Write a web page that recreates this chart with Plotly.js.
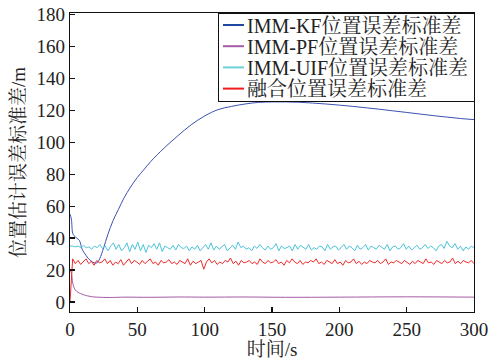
<!DOCTYPE html>
<html>
<head>
<meta charset="utf-8">
<script src="https://cdn.plot.ly/plotly-3.0.1.min.js"></script>
<style>html,body{margin:0;padding:0;background:#fff;}</style>
</head>
<body>
<div id="chart" style="width:490px;height:360px;"></div>
<script>
// ---- Data ----
const seriesNames = ['IMM-KF位置误差标准差', 'IMM-PF位置误差标准差', 'IMM-UIF位置误差标准差', '融合位置误差标准差'];

// IMM-KF (smooth curve)
const kfTime = [0,1,2,3,5,7,9,12,15,18,20,22,25,28,32,36,40,45,50,55,60,70,80,90,100,110,120,130,140,150,160,170,180,190,200,210,220,230,240,250,260,270,280,290,300];
const kfValues = [55,52,43,41.5,40,38.5,33,29,26,24.5,24.5,27,34,42,51,58,65,72,78,83,88,96.5,104,111,116.5,120.5,122.5,124,125,125.3,125.3,125.1,124.6,124,123.3,122.5,121.6,120.7,119.7,118.7,117.7,116.7,115.8,114.9,114.2];

// IMM-PF
const pfTime = [0,1,2,3,4,6,8,10,13,16,20,30,40,60,80,100,130,160,200,250,300];
const pfValues = [20,18,12,9,7.5,6,5.2,4.5,3.8,3.3,3.0,2.8,3.0,2.9,3.1,3.0,3.1,2.9,3.0,3.2,3.0];

// IMM-UIF (noisy, sampled uniformly over 0..300 s)
const uifValues = [35,35,34.5,35,34,35.5,34,34.5,33,35,34,36,33.5,35,32,35,37,33,36,32,34,37,31.5,36,33,37.5,32,36,31,35.5,34,36.5,33,37,31.5,35,34,33,35.5,32.5,36,34,33.5,35,32,34.5,33,35.5,32,34,36,33,37,32.5,35,33,34.5,36,32,34,35.5,33,37.5,34,35,33,34,32,35,33.5,36,34,32.5,35,33,34,36.5,32,35,33.5,34,35,32,36,33,35.5,34,33,36,32.5,34,33,35,34.5,32,36,33,34.5,35,32.5,34,36,33,35,34,32,35.5,33,34,36,32.5,35,34,33,35.5,34,33,36,32,34.5,35,33,34,36.5,33,35,32.5,34,35.5,33,34,36,33.5,35,34,32,35,36,33.5,38,35,34,36.5,33,35,32,34.5,33,35,34];

// Fusion (noisy, sampled uniformly over 0..300 s)
const fusionValues = [0,27,24,26,23.5,25,27,24,25.5,23,26,24.5,25,27,24,26,23,25,24,26.5,23,25,27,24,26,25,23.5,26,24,25.5,27,24,25,23,26,24.5,25,26.5,24,25,23.5,26,25,24,27,23,25.5,24,25,26,20.5,25,27,24.5,26,23.5,25,24,26,25,27.5,24,25.5,23,26,24.5,25,26,24,25,23.5,27,25,24,26,24.5,25,26.5,24,25,23,26,24.5,27,25,24,26,23.5,25,24.5,26,25,27,24,25,23.5,26,25,24,26.5,24,25,23,26,24.5,25,27,24,25.5,23.5,25,24,26,25,24.5,26,24,25,27,23.5,25,24.5,26,25,24,26,25,23.5,25.5,24,26,25,24,27,24.5,25,23.5,26,25,24,26,24.5,25,27.5,24,25.5,24,26,25,24.5,26,24];

const xTicks = [0,50,100,150,200,250,300];
const yTicks = [0,20,40,60,80,100,120,140,160,180];
const xTitle = '时间/s';
const yTitle = '位置估计误差标准差/m';

function uniformTime(arr){ return arr.map((_, i) => i * 300 / (arr.length - 1)); }

const FONT = 'Liberation Serif, "Noto Serif CJK SC", "Noto Sans CJK SC", serif';

const traces = [
  {x: kfTime, y: kfValues, name: seriesNames[0], mode: 'lines', line: {color: '#3a52b2', width: 1, shape: 'spline'}},
  {x: pfTime, y: pfValues, name: seriesNames[1], mode: 'lines', line: {color: '#a45ca6', width: 1, shape: 'spline'}},
  {x: uniformTime(uifValues), y: uifValues, name: seriesNames[2], mode: 'lines', line: {color: '#4cc4dc', width: 1}},
  {x: uniformTime(fusionValues), y: fusionValues, name: seriesNames[3], mode: 'lines', line: {color: '#f02a2a', width: 1}}
];
const legendColors = ['#1f48a0', '#a45ca6', '#6cd0dc', '#f01c1c'];

const axisCommon = {
  showline: true, linecolor: '#111', linewidth: 1.3, mirror: true,
  ticks: 'inside', ticklen: 5, tickwidth: 1.3, tickcolor: '#111',
  showgrid: false, zeroline: false,
  tickfont: {family: FONT, size: 19, color: '#222'}
};

const layout = {
  width: 490, height: 360,
  margin: {l: 70, r: 16, t: 13, b: 48},
  paper_bgcolor: '#fff', plot_bgcolor: '#fff',
  showlegend: true,
  legend: {
    x: 1, xanchor: 'right', y: 1, yanchor: 'top',
    bgcolor: '#fff', bordercolor: '#111', borderwidth: 1,
    font: {family: FONT, size: 20, color: '#222'},
    tracegroupgap: 0
  },
  xaxis: Object.assign({}, axisCommon, {
    range: [0, 300], tickvals: xTicks,
    title: {text: xTitle, font: {family: FONT, size: 19, color: '#222'}, standoff: 0}
  }),
  yaxis: Object.assign({}, axisCommon, {
    range: [-6.3, 181], tickvals: yTicks,
    title: {text: yTitle, font: {family: FONT, size: 19, color: '#222'}, standoff: 5}
  })
};

Plotly.newPlot('chart', traces, layout, {displayModeBar: false, staticPlot: true}).then(gd => {
  // compact legend: shorter sample lines, tighter rows (reference style)
  const rowH = 21.2, topPad = 12, textX = 29, rightPad = 5, boxH = 88;
  const items = gd.querySelectorAll('.legend .traces');
  let maxW = 0;
  items.forEach((g, i) => {
    g.setAttribute('transform', 'translate(0,' + (topPad + i * rowH) + ')');
    g.querySelectorAll('.legendlines path').forEach(p => {
      p.setAttribute('d', 'M5,0h21');
      p.style.strokeWidth = '2px';
      p.style.stroke = legendColors[i];
    });
    const t = g.querySelector('.legendtext');
    if (t) {
      t.setAttribute('x', textX);
      t.querySelectorAll('tspan[x]').forEach(s => s.setAttribute('x', textX));
      maxW = Math.max(maxW, t.getBBox().width);
    }
  });
  const W = Math.ceil(textX + maxW + rightPad);
  const bg = gd.querySelector('.legend .bg');
  if (bg) { bg.setAttribute('width', W); bg.setAttribute('height', boxH); }
  const leg = gd.querySelector('.legend');
  leg.setAttribute('transform', 'translate(' + (474 - W) + ',13)');
  gd.querySelectorAll('clipPath[id^="legend"] rect').forEach(r => { r.setAttribute('width', W); r.setAttribute('height', boxH); });
});
</script>
</body>
</html>
